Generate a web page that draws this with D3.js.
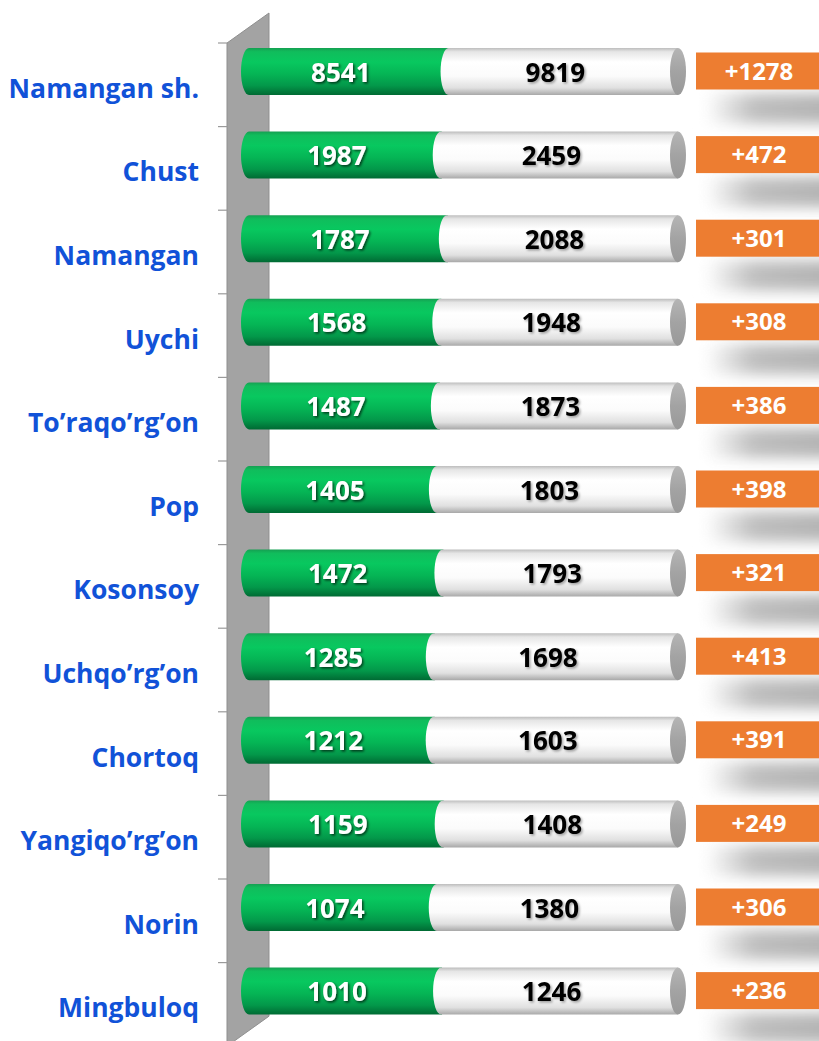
<!DOCTYPE html>
<html>
<head>
<meta charset="utf-8">
<script src="https://cdn.jsdelivr.net/npm/d3@7"></script>
<style>
  html, body { margin: 0; padding: 0; background: #ffffff; }
  svg { display: block; }
</style>
</head>
<body>
<script>
const categories = ["Namangan sh.", "Chust", "Namangan", "Uychi", "To’raqo’rg’on", "Pop", "Kosonsoy", "Uchqo’rg’on", "Chortoq", "Yangiqo’rg’on", "Norin", "Mingbuloq"];
const valuesFirst = [8541, 1987, 1787, 1568, 1487, 1405, 1472, 1285, 1212, 1159, 1074, 1010];
const valuesSecond = [9819, 2459, 2088, 1948, 1873, 1803, 1793, 1698, 1603, 1408, 1380, 1246];
const changeLabels = ["+1278", "+472", "+301", "+308", "+386", "+398", "+321", "+413", "+391", "+249", "+306", "+236"];

const W = 819, H = 1041;
const svg = d3.select("body").append("svg").attr("width", W).attr("height", H);
const defs = svg.append("defs");

function vGrad(id, stops) {
  const g = defs.append("linearGradient").attr("id", id)
    .attr("x1", 0).attr("y1", 0).attr("x2", 0).attr("y2", 1);
  stops.forEach(s => g.append("stop").attr("offset", s[0]).attr("stop-color", s[1]));
}
vGrad("gGreen", [[0, "#15a052"], [0.08, "#10bd5c"], [0.3, "#08c85f"], [0.55, "#05b555"], [0.8, "#03984a"], [1, "#006a33"]]);
vGrad("gWhite", [[0, "#bdbdbd"], [0.08, "#e6e6e6"], [0.3, "#ffffff"], [0.6, "#fbfbfb"], [0.85, "#e0e0e0"], [1, "#a8a8a8"]]);
vGrad("gCap", [[0, "#b5b5b5"], [0.5, "#a3a3a3"], [1, "#999999"]]);
const hg = defs.append("linearGradient").attr("id", "gShadow").attr("x1", 0).attr("y1", 0).attr("x2", 1).attr("y2", 0);
hg.append("stop").attr("offset", 0).attr("stop-color", "#ffffff");
hg.append("stop").attr("offset", 0.35).attr("stop-color", "#b8b8b8");
hg.append("stop").attr("offset", 1).attr("stop-color", "#a8a8a8");

const fWhite = defs.append("filter").attr("id", "shW").attr("x", "-20%").attr("y", "-20%").attr("width", "140%").attr("height", "160%");
fWhite.append("feDropShadow").attr("dx", 1.5).attr("dy", 1.5).attr("stdDeviation", 1).attr("flood-color", "#000").attr("flood-opacity", 0.65);
const fBlack = defs.append("filter").attr("id", "shB").attr("x", "-20%").attr("y", "-20%").attr("width", "140%").attr("height", "160%");
fBlack.append("feDropShadow").attr("dx", 1.5).attr("dy", 1.5).attr("stdDeviation", 1).attr("flood-color", "#000").attr("flood-opacity", 0.35);
const fBlur = defs.append("filter").attr("id", "blur").attr("x", "-30%").attr("y", "-80%").attr("width", "160%").attr("height", "260%");
fBlur.append("feGaussianBlur").attr("stdDeviation", 7);

// Scales
const y = d3.scaleBand().domain(categories).range([43, 43 + 83.6 * 12]).padding(0);
const x = d3.scaleLinear().domain([0, 1]).range([249, 678]);

const wallL = 227, wallR = 269, wallDy = 30;
const depthUp = 13.3;
const barH = 47, rx = 8;

// Wall (3D side wall)
const yTop = y.range()[0], yBot = y.range()[1];
svg.append("path")
  .attr("d", `M${wallL},${yTop} L${wallR},${yTop - wallDy} L${wallR},${yBot - wallDy} L${wallL},${yBot} Z`)
  .attr("fill", "#a3a3a3").attr("stroke", "#8f8f8f").attr("stroke-width", 1);

// Tick lines on left of wall
svg.append("g").selectAll("line")
  .data(d3.range(categories.length + 1))
  .join("line")
  .attr("x1", 218).attr("x2", wallL)
  .attr("y1", i => yTop + i * y.step()).attr("y2", i => yTop + i * y.step())
  .attr("stroke", "#9a9a9a").attr("stroke-width", 1.2);

// Category labels
svg.append("g").selectAll("text")
  .data(categories)
  .join("text")
  .attr("x", 199)
  .attr("y", d => y(d) + y.bandwidth() / 2 + 13)
  .attr("text-anchor", "end")
  .attr("font-family", "'Open Sans', sans-serif")
  .attr("font-weight", "bold")
  .attr("font-size", 26.5)
  .attr("fill", "#1152d8")
  .text(d => d);

const rows = categories.map((c, i) => {
  const tot = valuesFirst[i] + valuesSecond[i];
  return { c, a: valuesFirst[i], b: valuesSecond[i], f: valuesFirst[i] / tot, lab: changeLabels[i] };
});

function segPath(xa, xb, cy) {
  const t = cy - barH / 2, bt = cy + barH / 2, ry = barH / 2;
  return `M${xb},${t} L${xa},${t} A${rx},${ry} 0 0 0 ${xa},${bt} L${xb},${bt} Z`;
}

// Shadows behind change labels
const shadowG = svg.append("g");
rows.forEach(r => {
  const cy = y(r.c) + y.bandwidth() / 2 - depthUp;
  shadowG.append("rect")
    .attr("x", 705).attr("y", cy + 22).attr("width", 140).attr("height", 30)
    .attr("fill", "url(#gShadow)").attr("filter", "url(#blur)").attr("opacity", 0.9);
});

const barsG = svg.append("g");
rows.forEach(r => {
  const cy = y(r.c) + y.bandwidth() / 2 - depthUp;
  const x0 = x(0), xm = x(r.f), x1 = x(1);
  const g = barsG.append("g");
  g.append("path").attr("d", segPath(x0, xm + 1, cy)).attr("fill", "url(#gGreen)");
  g.append("path").attr("d", segPath(xm, x1, cy)).attr("fill", "url(#gWhite)");
  g.append("ellipse").attr("cx", x1).attr("cy", cy).attr("rx", rx).attr("ry", barH / 2)
    .attr("fill", "url(#gCap)");
  g.append("text")
    .attr("x", (x0 + xm) / 2 - rx).attr("y", cy + 10)
    .attr("text-anchor", "middle")
    .attr("font-family", "'Open Sans', sans-serif").attr("font-weight", "bold").attr("font-size", 26)
    .attr("fill", "#ffffff").attr("filter", "url(#shW)")
    .text(r.a);
  g.append("text")
    .attr("x", (xm + x1) / 2 - rx).attr("y", cy + 10)
    .attr("text-anchor", "middle")
    .attr("font-family", "'Open Sans', sans-serif").attr("font-weight", "bold").attr("font-size", 26)
    .attr("fill", "#000000").attr("filter", "url(#shB)")
    .text(r.b);
});

// Change labels
const labG = svg.append("g");
rows.forEach(r => {
  const cy = y(r.c) + y.bandwidth() / 2 - depthUp;
  labG.append("rect").attr("x", 696).attr("y", cy - 19).attr("width", 130).attr("height", 37)
    .attr("fill", "#ed7d31");
  labG.append("text").attr("x", 759).attr("y", cy + 8)
    .attr("text-anchor", "middle")
    .attr("font-family", "'Open Sans', sans-serif").attr("font-weight", "bold").attr("font-size", 24)
    .attr("fill", "#ffffff")
    .text(r.lab);
});
</script>
</body>
</html>
